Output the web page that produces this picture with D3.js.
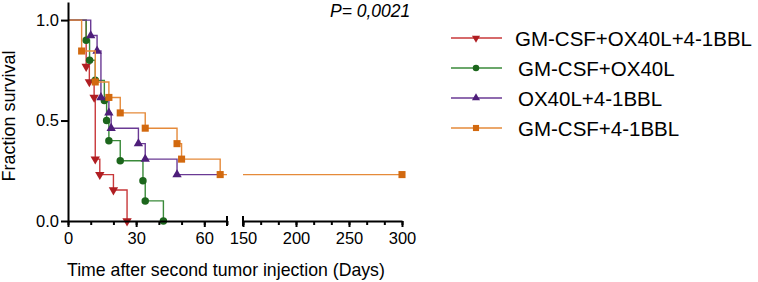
<!DOCTYPE html>
<html>
<head>
<meta charset="utf-8">
<script src="https://cdn.jsdelivr.net/npm/d3@7"></script>
<style>
  html, body { margin: 0; padding: 0; background: #fff; }
  svg { display: block; }
</style>
</head>
<body>
<div class="canvas"></div>
<script>
// chart size
const width = 758
const height = 282
const fontName = '"Liberation Sans", Arial, Helvetica, sans-serif'

// series names, in legend order
const seriesNames = ['GM-CSF+OX40L+4-1BBL', 'GM-CSF+OX40L', 'OX40L+4-1BBL', 'GM-CSF+4-1BBL']

// kaplan-meier steps (day of drop, fraction surviving after it)
const redDays = [0, 8, 9.4, 11.5, 12, 14, 20, 26]
const redSurv = [1, 0.769, 0.692, 0.615, 0.308, 0.231, 0.154, 0]
const greenDays = [0, 8, 9.5, 12, 16, 17, 18, 23, 33, 34, 42]
const greenSurv = [1, 0.9, 0.8, 0.7, 0.6, 0.5, 0.4, 0.3, 0.2, 0.1, 0]
const purpleDays = [0, 10, 12.8, 14.5, 18, 19, 31, 34, 48]
const purpleSurv = [1, 0.923, 0.846, 0.615, 0.538, 0.462, 0.385, 0.308, 0.231]
const orangeDays = [0, 6, 12, 18, 23, 34, 48, 50, 67]
const orangeSurv = [1, 0.846, 0.692, 0.615, 0.538, 0.462, 0.385, 0.308, 0.231]

// last day followed for each group (censored point)
const lastDays = [26, 42, 66, 300]
const censorMark = [false, false, false, true]

// axis ticks
const xTicksLeft = [0, 30, 60]
const xMinorLeft = [0, 10, 20, 30, 40, 50, 60, 70]
const xTicksRight = [150, 200, 250, 300]
const yTicks = [0, 0.5, 1]
const pLabel = 'P= 0,0021'

const lineColors = ['#c8383a', '#3a8a3a', '#6a3a94', '#e58a3a']
const markColors = ['#b01e22', '#1c661c', '#4e1e7a', '#d2690f']
const symbols = [d3.symbolTriangle, d3.symbolCircle, d3.symbolTriangle, d3.symbolSquare]
const rotations = [180, 0, 0, 0]
const markSizes = [38, 44, 38, 50]

const series = seriesNames.map((name, i) => {
    const days = [redDays, greenDays, purpleDays, orangeDays][i]
    const surv = [redSurv, greenSurv, purpleSurv, orangeSurv][i]
    return {
        name: name,
        steps: days.map((d, j) => ({day: d, surv: surv[j]})),
        last: lastDays[i],
        censor: censorMark[i],
        i: i
    }
})

const svg = d3.select('.canvas')
    .append('svg')
    .attr('width', width)
    .attr('height', height)
    .attr('viewBox', `0 0 ${width} ${height}`)

// *scales (broken x axis: 0-70 and 150-300)
const xLeft = d3.scaleLinear().domain([0, 70]).range([68, 227])
const xRight = d3.scaleLinear().domain([150, 300]).range([243, 402])
const y = d3.scaleLinear().domain([0, 1.09]).range([221, 2])

const graph = svg.append('g')

// *step lines
const stepLine = (xs) => d3.line()
    .x(d => xs(d.day))
    .y(d => y(d.surv))
    .curve(d3.curveStepAfter)

series.forEach(s => {
    const lastSurv = s.steps[s.steps.length - 1].surv
    // left panel
    const leftPts = s.steps.filter(d => d.day <= 70)
    leftPts.push({day: Math.min(s.last, 70), surv: lastSurv})
    graph.append('path')
        .attr('d', stepLine(xLeft)(leftPts))
        .attr('fill', 'none')
        .attr('stroke', lineColors[s.i])
        .attr('stroke-width', 1.4)

    // right panel
    if (s.last > 150) {
        graph.append('path')
            .attr('d', stepLine(xRight)([{day: 150, surv: lastSurv}, {day: s.last, surv: lastSurv}]))
            .attr('fill', 'none')
            .attr('stroke', lineColors[s.i])
            .attr('stroke-width', 1.4)
    }

    // markers at each drop
    const marks = s.steps.filter(d => d.day > 0).map(d => ({x: xLeft(d.day), y: y(d.surv)}))
    if (s.censor) {
        const xs = s.last > 150 ? xRight : xLeft
        marks.push({x: xs(s.last), y: y(lastSurv)})
    }
    graph.selectAll(null)
        .data(marks)
        .enter()
        .append('path')
        .attr('d', d3.symbol().type(symbols[s.i]).size(markSizes[s.i]))
        .attr('transform', d => `translate(${d.x}, ${d.y}) rotate(${rotations[s.i]})`)
        .attr('fill', markColors[s.i])
})

// *axes
const axisG = svg.append('g')
    .attr('font-family', fontName)

// y axis
const yAxis = axisG.append('g')
    .attr('transform', `translate(${xLeft(0)}, 0)`)
    .call(d3.axisLeft(y).tickValues(yTicks).tickSize(7).tickSizeOuter(0).tickPadding(2)
        .tickFormat(d3.format('.1f')))
yAxis.selectAll('text').attr('font-size', 16.5).attr('font-family', fontName).attr('fill', '#000')

// x axis, left part
const xAxisL = axisG.append('g')
    .attr('transform', `translate(0, ${y(0)})`)
    .call(d3.axisBottom(xLeft).tickValues(xMinorLeft).tickSize(4).tickSizeOuter(0).tickFormat(''))
axisG.append('g')
    .attr('transform', `translate(0, ${y(0)})`)
    .call(d3.axisBottom(xLeft).tickValues(xTicksLeft).tickSize(6).tickSizeOuter(0).tickPadding(5))
    .call(g => g.select('.domain').remove())
    .selectAll('text').attr('font-size', 16.5).attr('font-family', fontName).attr('fill', '#000')

// x axis, right part
const rightMinor = d3.range(0, 10).map(k => 150 + k * 50 / 3)
axisG.append('g')
    .attr('transform', `translate(0, ${y(0)})`)
    .call(d3.axisBottom(xRight).tickValues(rightMinor).tickSize(4).tickSizeOuter(0).tickFormat(''))
axisG.append('g')
    .attr('transform', `translate(0, ${y(0)})`)
    .call(d3.axisBottom(xRight).tickValues(xTicksRight).tickSize(6).tickSizeOuter(0).tickPadding(5))
    .call(g => g.select('.domain').remove())
    .selectAll('text').attr('font-size', 16.5).attr('font-family', fontName).attr('fill', '#000')

// end caps of the broken axis
;[xLeft(70), xRight(150)].forEach(xc => {
    axisG.append('line')
        .attr('x1', xc).attr('x2', xc)
        .attr('y1', y(0) - 5).attr('y2', y(0) + 5)
        .attr('stroke', '#000')
        .attr('stroke-width', 2)
})

axisG.selectAll('.domain, .tick line')
    .attr('stroke', '#000')
    .attr('stroke-width', 2)

// *axis titles
svg.append('text')
    .attr('font-family', fontName)
    .attr('font-size', 18)
    .attr('fill', '#000')
    .attr('text-anchor', 'middle')
    .attr('transform', `translate(15, 116) rotate(-90)`)
    .text('Fraction survival')

svg.append('text')
    .attr('font-family', fontName)
    .attr('font-size', 17.7)
    .attr('fill', '#000')
    .attr('x', 67)
    .attr('y', 276)
    .text('Time after second tumor injection (Days)')

svg.append('text')
    .attr('font-family', fontName)
    .attr('font-size', 17.5)
    .attr('font-style', 'italic')
    .attr('fill', '#000')
    .attr('x', 330)
    .attr('y', 16.5)
    .text(pLabel)

// *legend
const legend = svg.append('g')
    .selectAll('g')
    .data(series)
    .enter()
    .append('g')
    .attr('transform', (d, i) => `translate(0, ${38 + i * 30})`)

legend.append('line')
    .attr('x1', 451).attr('x2', 502)
    .attr('y1', 0).attr('y2', 0)
    .attr('stroke', d => lineColors[d.i])
    .attr('stroke-width', 1.6)

legend.append('path')
    .attr('d', d => d3.symbol().type(symbols[d.i]).size(markSizes[d.i] * 0.75)())
    .attr('transform', d => `translate(476, 0) rotate(${rotations[d.i]})`)
    .attr('fill', d => markColors[d.i])

legend.append('text')
    .attr('font-family', fontName)
    .attr('font-size', 20.5)
    .attr('fill', '#000')
    .attr('x', (d, i) => i === 0 ? 515 : 518)
    .attr('y', 8)
    .text(d => d.name)
</script>
</body>
</html>
